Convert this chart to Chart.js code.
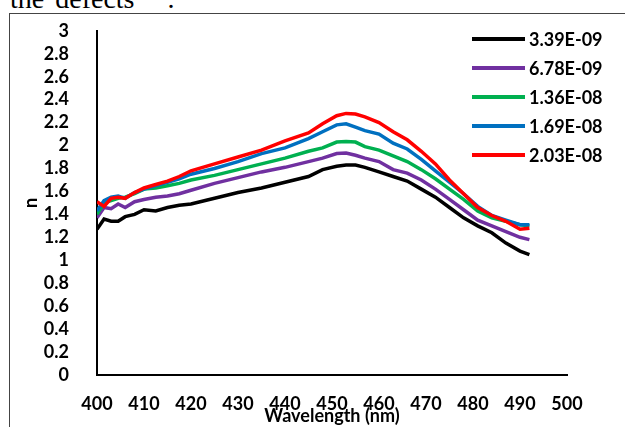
<!DOCTYPE html>
<html>
<head>
<meta charset="utf-8">
<script src="https://cdn.jsdelivr.net/npm/chart.js@4"></script>
<style>
  html, body { margin: 0; padding: 0; background: #fff; overflow: hidden; }
  #page { position: relative; width: 625px; height: 427px; overflow: hidden; }
  #topText { position: absolute; left: 10px; top: -15px; font: 28px "Liberation Serif", serif; line-height: 28px; color: #000; word-spacing: 4px; white-space: nowrap; }
  #frame { position: absolute; left: 9px; top: 13px; width: 700px; height: 500px; border-left: 1px solid #444; border-top: 1px solid #444; }
  #wrap { position: absolute; left: 0; top: 0; width: 625px; height: 427px; }
</style>
</head>
<body>
<div id="page">
  <div id="topText">the defects&nbsp;&nbsp;&nbsp;.</div>
  <div id="frame"></div>
  <div id="wrap"><canvas id="myChart" width="625" height="427"></canvas></div>
</div>
<script>
// wavelength (nm) sample points
let wavelengths = [400, 401.5, 403, 404.5, 406, 408, 410, 412.5, 415, 417.5, 420, 425, 430, 435, 440, 445, 448, 451, 453, 455, 457, 460, 463, 466, 469, 472, 475, 478, 481, 484, 487, 490, 492];

let labels = ["3.39E-09", "6.78E-09", "1.36E-08", "1.69E-08", "2.03E-08"];
let colors = ["#000000", "#7030A0", "#00B050", "#0070C0", "#FF0000"];

let n1 = [1.27, 1.36, 1.34, 1.34, 1.38, 1.40, 1.44, 1.43, 1.46, 1.48, 1.49, 1.54, 1.59, 1.63, 1.68, 1.73, 1.79, 1.82, 1.83, 1.83, 1.81, 1.77, 1.73, 1.69, 1.62, 1.55, 1.46, 1.37, 1.30, 1.24, 1.15, 1.08, 1.05];
let n2 = [1.37, 1.46, 1.45, 1.49, 1.46, 1.51, 1.53, 1.55, 1.56, 1.58, 1.61, 1.67, 1.72, 1.77, 1.81, 1.86, 1.89, 1.93, 1.935, 1.915, 1.89, 1.86, 1.79, 1.76, 1.70, 1.62, 1.53, 1.44, 1.35, 1.30, 1.25, 1.20, 1.18];
let n3 = [1.40, 1.50, 1.52, 1.54, 1.55, 1.58, 1.62, 1.63, 1.65, 1.67, 1.70, 1.74, 1.79, 1.84, 1.89, 1.95, 1.98, 2.03, 2.035, 2.03, 1.99, 1.96, 1.91, 1.86, 1.79, 1.71, 1.62, 1.53, 1.43, 1.37, 1.34, 1.31, 1.30];
let n4 = [1.43, 1.52, 1.55, 1.56, 1.54, 1.59, 1.62, 1.65, 1.68, 1.71, 1.75, 1.80, 1.86, 1.93, 1.98, 2.06, 2.12, 2.18, 2.19, 2.16, 2.13, 2.10, 2.02, 1.97, 1.88, 1.78, 1.68, 1.58, 1.47, 1.39, 1.35, 1.31, 1.31];
let n5 = [1.51, 1.47, 1.54, 1.55, 1.54, 1.59, 1.63, 1.66, 1.69, 1.73, 1.78, 1.84, 1.90, 1.96, 2.04, 2.11, 2.19, 2.26, 2.28, 2.275, 2.25, 2.20, 2.12, 2.05, 1.95, 1.84, 1.70, 1.58, 1.46, 1.39, 1.34, 1.27, 1.28];
let series = [n1, n2, n3, n4, n5];

let tickFont = { family: "Lato", size: 18, weight: "bold" };

let datasets = series.map((vals, i) => ({
  label: labels[i],
  data: vals.map((v, k) => ({ x: wavelengths[k], y: v })),
  borderColor: colors[i],
  backgroundColor: colors[i],
  borderWidth: 3.5,
  pointRadius: 0,
  tension: 0,
  fill: false,
  order: series.length - i, // later series on top, like the original
}));

// legend drawn inside the plot, one row per series
let legendInside = {
  id: "legendInside",
  afterDraw(chart) {
    let c = chart.ctx;
    c.save();
    c.font = "bold 18px Lato";
    c.textBaseline = "middle";
    c.textAlign = "left";
    chart.data.datasets.forEach((ds, i) => {
      let y = 39 + i * 29;
      c.strokeStyle = ds.borderColor;
      c.lineWidth = 4;
      c.beginPath();
      c.moveTo(472, y);
      c.lineTo(525, y);
      c.stroke();
      c.fillStyle = "#000";
      c.fillText(ds.label, 529, y + 1);
    });
    c.restore();
  },
};

let ctx = document.getElementById("myChart").getContext("2d");
let myChart = new Chart(ctx, {
  type: "line",
  data: { datasets: datasets },
  plugins: [legendInside],
  options: {
    responsive: false,
    animation: false,
    layout: { padding: { top: 27, right: 58, bottom: 0, left: 0 } },
    plugins: { legend: { display: false }, tooltip: { enabled: false } },
    scales: {
      x: {
        type: "linear",
        min: 400,
        max: 500,
        grid: { display: false },
        border: { display: true, color: "#000", width: 2 },
        ticks: { stepSize: 10, autoSkip: false, color: "#000", font: tickFont, padding: 10, maxRotation: 0 },
        title: { display: true, text: "Wavelength (nm)", color: "#000", font: tickFont, padding: { top: -4, bottom: 0 } },
        afterFit: (s) => { s.height = 52; },
      },
      y: {
        min: 0,
        max: 3,
        grid: { display: false },
        border: { display: true, color: "#000", width: 2 },
        ticks: { stepSize: 0.2, autoSkip: false, color: "#000", font: tickFont, padding: 20, callback: (v) => +v.toFixed(1) },
        title: { display: true, text: "n", color: "#000", font: tickFont, padding: { top: 20, bottom: 0 } },
        afterFit: (s) => { s.width = 97; },
      },
    },
  },
});
</script>
</body>
</html>
